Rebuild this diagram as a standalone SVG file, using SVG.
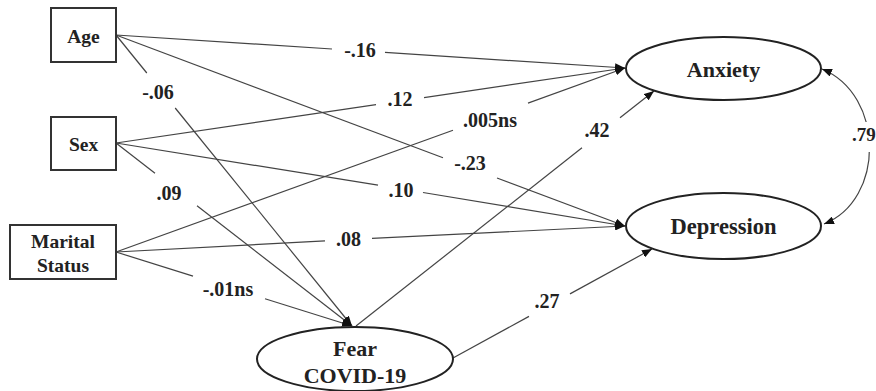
<svg xmlns="http://www.w3.org/2000/svg" width="876" height="391" viewBox="0 0 876 391">
<style>
.box{fill:#fff;stroke:#333;stroke-width:2}
.ell{fill:#fff;stroke:#222;stroke-width:2}
.nt{font-family:'Liberation Serif','Tinos','Times New Roman','DejaVu Serif',serif;font-weight:bold;fill:#222;text-anchor:middle}
.lb{font-family:'Liberation Serif','Tinos','Times New Roman','DejaVu Serif',serif;font-weight:bold;font-size:20px;fill:#222;text-anchor:middle}
.ln{fill:none;stroke:#444;stroke-width:1.2}
.arr{marker-end:url(#ah)}
</style>
<defs>
<marker id="ah" viewBox="0 0 10 8" refX="10" refY="4" markerWidth="10" markerHeight="8" markerUnits="userSpaceOnUse" orient="auto">
<path d="M0,0 L10,4 L0,8 Z" fill="#111"/>
</marker>
<marker id="ahs" viewBox="0 0 10 8" refX="10" refY="4" markerWidth="10" markerHeight="8" markerUnits="userSpaceOnUse" orient="auto-start-reverse">
<path d="M0,0 L10,4 L0,8 Z" fill="#111"/>
</marker>
</defs>
<g id="connectors">
<path class="ln" d="M116,35 L332,49"/><path class="ln arr" d="M385,52.4 L625,68"/>
<path class="ln" d="M116,35 L443,157.7"/><path class="ln arr" d="M497,178 L625,226"/>
<path class="ln" d="M116,35 L146.8,73"/><path class="ln arr" d="M175.2,108 L352,326"/>
<path class="ln" d="M116,143 L376,104.7"/><path class="ln arr" d="M424,97.6 L625,68"/>
<path class="ln" d="M116,143 L378,185.2"/><path class="ln arr" d="M423,192.5 L625,226"/>
<path class="ln" d="M116,143 L155,173.2"/><path class="ln arr" d="M197,205.8 L352,326"/>
<path class="ln" d="M116,252 L453,130.2"/><path class="ln arr" d="M528,103.1 L625,68"/>
<path class="ln" d="M116,252 L325,240.9"/><path class="ln arr" d="M372,238.4 L625,226"/>
<path class="ln" d="M116,252 L193,276.1"/><path class="ln arr" d="M265,298.7 L352,326"/>
<path class="ln" d="M356,326 L582,147.8"/><path class="ln arr" d="M620,117.8 L654,91"/>
<path class="ln" d="M453,358 L529,316.4"/><path class="ln arr" d="M570,293.9 L652,249"/>
<path class="ln" d="M822,69 C885,95 885,200 824,224" style="marker-start:url(#ahs);marker-end:url(#ah)"/>
<rect x="852" y="122" width="24" height="30" fill="#fff"/>
</g>
<g id="age"><rect class="box" x="51" y="8" width="65" height="54"/><text class="nt" x="83.5" y="43" font-size="19.5">Age</text></g>
<g id="sex"><rect class="box" x="51" y="117" width="65" height="53"/><text class="nt" x="83.5" y="151" font-size="19.5">Sex</text></g>
<g id="marital"><rect class="box" x="10" y="225" width="106" height="54"/><text class="nt" x="63" y="248" font-size="19.5">Marital</text><text class="nt" x="63" y="272" font-size="19.5">Status</text></g>
<g id="anxiety"><ellipse class="ell" cx="723.5" cy="68.5" rx="97.5" ry="31.5"/><text class="nt" x="723.5" y="77" font-size="22">Anxiety</text></g>
<g id="depression"><ellipse class="ell" cx="723.5" cy="226" rx="97.5" ry="33"/><text class="nt" x="723.5" y="234" font-size="22.5">Depression</text></g>
<g id="fear"><ellipse class="ell" cx="355" cy="359" rx="98" ry="32"/><text class="nt" x="355" y="356" font-size="22">Fear</text><text class="nt" x="355" y="383" font-size="22">COVID-19</text></g>
<g id="labels">
<text class="lb" x="360" y="57">-.16</text>
<text class="lb" x="400" y="106">.12</text>
<text class="lb" x="490" y="127">.005ns</text>
<text class="lb" x="597" y="137">.42</text>
<text class="lb" x="470" y="170">-.23</text>
<text class="lb" x="401" y="197">.10</text>
<text class="lb" x="348.5" y="246">.08</text>
<text class="lb" x="547" y="308">.27</text>
<text class="lb" x="158" y="99">-.06</text>
<text class="lb" x="169" y="200">.09</text>
<text class="lb" x="228" y="296">-.01ns</text>
<text class="lb" x="852" y="141" style="text-anchor:start;font-size:19px">.79</text>
</g>
</svg>
